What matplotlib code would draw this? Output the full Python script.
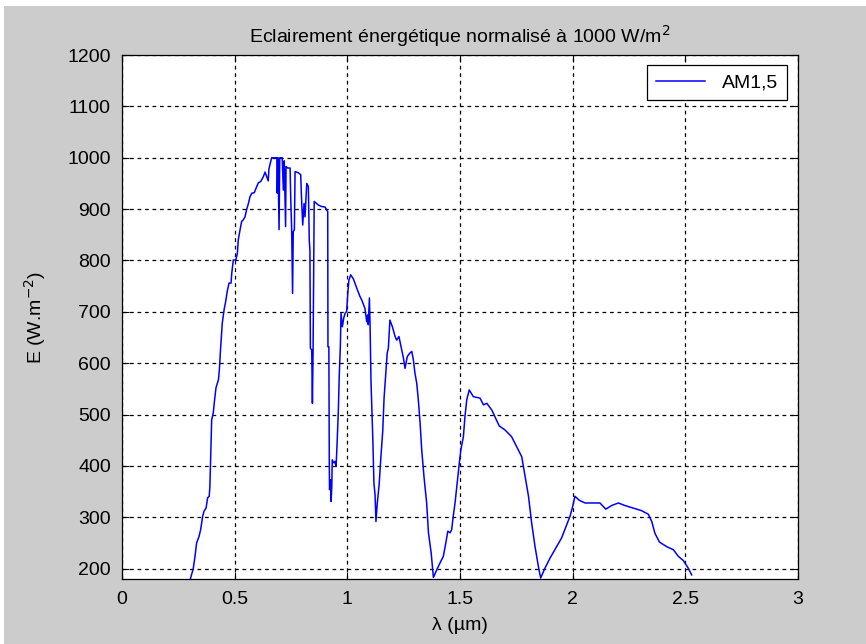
import matplotlib
matplotlib.use("Agg")
import matplotlib.pyplot as plt
from matplotlib.patches import Rectangle

plt.rcParams['font.family'] = ['Liberation Sans Narrow', 'Liberation Sans', 'DejaVu Sans']

wavelength = [
    0.302, 0.316, 0.324, 0.331, 0.342, 0.349, 0.358, 0.364, 0.373, 0.380,
    0.387, 0.390, 0.394, 0.398, 0.405, 0.410, 0.417, 0.428, 0.432, 0.438,
    0.445, 0.453, 0.460, 0.467, 0.475, 0.484, 0.487, 0.494, 0.505, 0.512,
    0.516, 0.524, 0.531, 0.538, 0.546, 0.553, 0.561, 0.568, 0.576, 0.587,
    0.598, 0.605, 0.616, 0.627, 0.635, 0.645, 0.649, 0.652, 0.664, 0.687,
    0.689, 0.692, 0.697, 0.700, 0.711, 0.716, 0.720, 0.726, 0.728, 0.735,
    0.746, 0.749, 0.753, 0.757, 0.760, 0.765, 0.768, 0.782, 0.793, 0.797,
    0.802, 0.808, 0.812, 0.820, 0.827, 0.831, 0.834, 0.836, 0.842, 0.845,
    0.848, 0.853, 0.871, 0.886, 0.901, 0.913, 0.914, 0.918, 0.920, 0.921,
    0.926, 0.928, 0.931, 0.933, 0.940, 0.945, 0.950, 0.954, 0.960, 0.964,
    0.969, 0.972, 0.978, 0.984, 0.990, 0.997, 1.002, 1.007, 1.015, 1.027,
    1.042, 1.056, 1.064, 1.078, 1.086, 1.090, 1.093, 1.098, 1.101, 1.105,
    1.113, 1.118, 1.123, 1.127, 1.133, 1.141, 1.149, 1.157, 1.163, 1.172,
    1.177, 1.182, 1.189, 1.200, 1.212, 1.219, 1.229, 1.238, 1.249, 1.256,
    1.266, 1.278, 1.286, 1.293, 1.300, 1.308, 1.315, 1.323, 1.330, 1.340,
    1.352, 1.360, 1.372, 1.382, 1.397, 1.411, 1.426, 1.437, 1.446, 1.456,
    1.463, 1.470, 1.478, 1.485, 1.497, 1.504, 1.515, 1.522, 1.530, 1.541,
    1.559, 1.589, 1.604, 1.619, 1.641, 1.655, 1.674, 1.700, 1.729, 1.751,
    1.774, 1.789, 1.804, 1.818, 1.833, 1.848, 1.858, 1.877, 1.900, 1.929,
    1.951, 1.974, 1.988, 2.000, 2.010, 2.030, 2.055, 2.121, 2.147, 2.173,
    2.203, 2.232, 2.269, 2.306, 2.336, 2.351, 2.365, 2.385, 2.417, 2.447,
    2.469, 2.491, 2.513, 2.528,
]
irradiance = [
    178, 200, 224, 250, 263, 276, 302, 312, 318, 338,
    341, 360, 425, 490, 503, 525, 552, 568, 587, 632,
    678, 704, 720, 740, 756, 756, 775, 801, 801, 814,
    840, 860, 876, 879, 885, 899, 911, 924, 931, 932,
    944, 951, 954, 963, 972, 960, 955, 978, 1000, 1000,
    931, 1000, 860, 1000, 1000, 937, 994, 866, 983, 980,
    980, 918, 860, 736, 856, 860, 973, 971, 967, 918,
    869, 911, 885, 950, 944, 840, 820, 629, 626, 522,
    626, 915, 908, 905, 904, 895, 632, 632, 399, 354,
    373, 331, 360, 412, 406, 409, 399, 438, 506, 574,
    633, 697, 671, 688, 697, 701, 736, 762, 772, 764,
    746, 730, 723, 707, 681, 694, 675, 727, 671, 564,
    454, 367, 344, 292, 328, 363, 418, 467, 532, 590,
    620, 629, 684, 671, 652, 645, 652, 633, 610, 590,
    613, 620, 623, 607, 581, 561, 529, 483, 432, 380,
    328, 270, 231, 183, 198, 211, 224, 250, 273, 270,
    276, 302, 328, 357, 406, 432, 457, 496, 529, 548,
    535, 532, 519, 522, 509, 496, 478, 470, 457, 438,
    418, 380, 341, 289, 243, 204, 182, 201, 221, 243,
    260, 286, 302, 321, 341, 333, 328, 328, 316, 323,
    328, 323, 318, 313, 306, 292, 269, 252, 243, 237,
    224, 216, 201, 188,
]
series_label = "AM1,5"
x_ticks = [0, 0.5, 1, 1.5, 2, 2.5, 3]
x_tick_labels = ["0", "0.5", "1", "1.5", "2", "2.5", "3"]
y_ticks = [200, 300, 400, 500, 600, 700, 800, 900, 1000, 1100, 1200]

fig = plt.figure(figsize=(8.66, 6.44), dpi=100, facecolor='#cccccc')
# thin white strips at top and left edge of the original capture
fig.patches.append(Rectangle((0, 1 - 6/644), 1, 6/644, transform=fig.transFigure,
                             facecolor='white', edgecolor='none', zorder=-1))
fig.patches.append(Rectangle((0, 0), 4/866, 1, transform=fig.transFigure,
                             facecolor='white', edgecolor='none', zorder=-1))

ax = fig.add_axes([122/866, 1 - 579/644, (798 - 122)/866, (579 - 55)/644])
ax.set_facecolor('white')
ax.plot(wavelength, irradiance, color='#0000ff', linewidth=1.1, label=series_label)

ax.set_xlim(0, 3)
ax.set_ylim(180, 1200)
ax.set_xticks(x_ticks)
ax.set_xticklabels(x_tick_labels)
ax.set_yticks(y_ticks)

ax.grid(True, color='black', linestyle=(0, (3, 3)), linewidth=0.9)
ax.tick_params(direction='in', top=True, right=True, length=5, width=0.8,
               labelsize=14, colors='black')
ax.tick_params(axis='x', pad=9)
ax.tick_params(axis='y', pad=8)
for s in ax.spines.values():
    s.set_color('black')
    s.set_linewidth(0.9)

ax.set_title("Eclairement énergétique normalisé à 1000 W/m$^2$", fontsize=14, pad=9)
ax.set_xlabel("λ (µm)", fontsize=14, labelpad=6)
ax.set_ylabel("E (W.m$^{-2}$)", fontsize=14, labelpad=14)

leg = ax.legend(loc='upper right', bbox_to_anchor=(0.984, 0.981), borderaxespad=0,
                fancybox=False, framealpha=1, edgecolor='black', fontsize=14,
                handlelength=2.5, borderpad=0.45, handletextpad=0.9)
leg.get_frame().set_linewidth(0.9)

fig.savefig("out.png", dpi=100, facecolor=fig.get_facecolor())
